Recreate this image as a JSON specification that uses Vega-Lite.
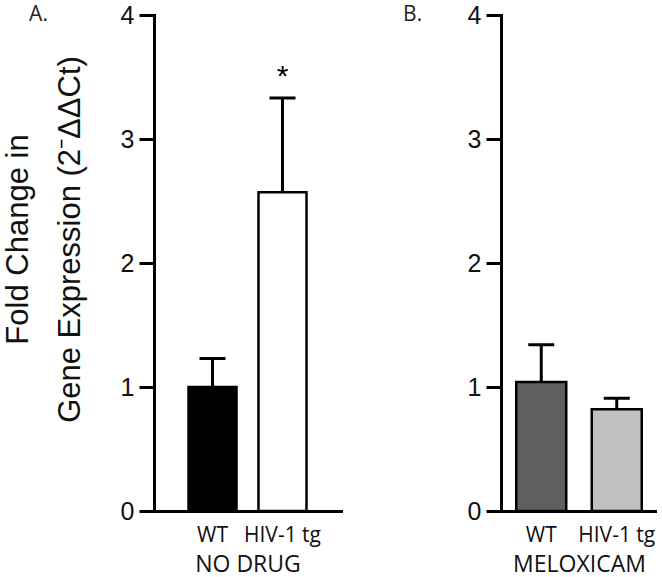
{
  "$schema": "https://vega.github.io/schema/vega-lite/v6.json",
  "padding": {"left": 2, "top": 3, "right": 0, "bottom": 0},
  "background": "white",
  "datasets": {
    "expr": [
      {"panel": "A", "condition": "NO DRUG", "genotype": "WT", "mean": 1.0, "upper": 1.23, "sig": ""},
      {"panel": "A", "condition": "NO DRUG", "genotype": "HIV-1 tg", "mean": 2.57, "upper": 3.33, "sig": "*"},
      {"panel": "B", "condition": "MELOXICAM", "genotype": "WT", "mean": 1.04, "upper": 1.34, "sig": ""},
      {"panel": "B", "condition": "MELOXICAM", "genotype": "HIV-1 tg", "mean": 0.82, "upper": 0.91, "sig": ""}
    ]
  },
  "config": {
    "view": {"stroke": null},
    "axis": {"grid": false, "domainColor": "black", "domainWidth": 3, "domainCap": "square", "tickColor": "black", "tickWidth": 3, "labelColor": "#111", "titleColor": "#111"},
    "axisY": {"tickSize": 15, "labelFont": "Liberation Sans", "labelFontSize": 25, "labelPadding": 5, "format": "d", "titleFont": "Liberation Sans", "titleFontSize": 31, "titleFontWeight": "normal", "titleLineHeight": 52, "titlePadding": 34},
    "axisX": {"ticks": false, "labelAngle": 0, "labelFont": "Open Sans", "labelFontSize": 21, "labelPadding": 13, "titleFont": "Open Sans", "titleFontSize": 23, "titleFontWeight": "normal", "titlePadding": 8},
    "title": {"font": "Open Sans", "fontSize": 21, "fontWeight": "normal", "anchor": "start", "color": "#222", "frame": "bounds"}
  },
  "spacing": 62,
  "resolve": {"scale": {"color": "independent", "x": "independent", "y": "independent"}},
  "hconcat": [
    {
      "title": {"text": "A.", "offset": -22, "dx": 27},
      "width": 187,
      "height": 496,
      "data": {"name": "expr"},
      "transform": [{"filter": "datum.panel === 'A'"}],
      "encoding": {
        "x": {"field": "genotype", "type": "nominal", "sort": ["WT", "HIV-1 tg"], "scale": {"paddingInner": 0.314, "paddingOuter": 0.493}, "title": "NO DRUG"}
      },
      "layer": [
        {
          "mark": {"type": "bar", "stroke": "black", "strokeWidth": 2.5},
          "encoding": {
            "y": {"field": "mean", "type": "quantitative", "scale": {"domain": [0, 4]}, "title": ["Fold Change in", "Gene Expression  (2⁻ΔΔCt)"], "axis": {"values": [0, 1, 2, 3, 4], "titleY": 224}},
            "color": {"field": "genotype", "type": "nominal", "scale": {"domain": ["WT", "HIV-1 tg"], "range": ["#000000", "#ffffff"]}, "legend": null}
          }
        },
        {
          "mark": {"type": "rule", "strokeWidth": 3, "color": "black"},
          "encoding": {
            "y": {"field": "mean", "type": "quantitative", "title": ["Fold Change in", "Gene Expression  (2⁻ΔΔCt)"]},
            "y2": {"field": "upper"}
          }
        },
        {
          "mark": {"type": "tick", "thickness": 3, "size": 26, "color": "black", "opacity": 1},
          "encoding": {
            "y": {"field": "upper", "type": "quantitative", "title": ["Fold Change in", "Gene Expression  (2⁻ΔΔCt)"]}
          }
        },
        {
          "mark": {"type": "text", "fontSize": 30, "dy": -12, "baseline": "alphabetic", "font": "Liberation Sans", "color": "black"},
          "encoding": {
            "y": {"field": "upper", "type": "quantitative", "title": ["Fold Change in", "Gene Expression  (2⁻ΔΔCt)"]},
            "text": {"field": "sig"}
          }
        }
      ]
    },
    {
      "title": {"text": "B.", "offset": -22, "dx": -64},
      "width": 156,
      "height": 496,
      "data": {"name": "expr"},
      "transform": [{"filter": "datum.panel === 'B'"}],
      "encoding": {
        "x": {"field": "genotype", "type": "nominal", "sort": ["WT", "HIV-1 tg"], "scale": {"paddingInner": 0.338, "paddingOuter": 0.202}, "title": "MELOXICAM"}
      },
      "layer": [
        {
          "mark": {"type": "bar", "stroke": "black", "strokeWidth": 2.5},
          "encoding": {
            "y": {"field": "mean", "type": "quantitative", "scale": {"domain": [0, 4]}, "title": null, "axis": {"values": [0, 1, 2, 3, 4]}},
            "color": {"field": "genotype", "type": "nominal", "scale": {"domain": ["WT", "HIV-1 tg"], "range": ["#5f5f5f", "#c0c0c0"]}, "legend": null}
          }
        },
        {
          "mark": {"type": "rule", "strokeWidth": 3, "color": "black"},
          "encoding": {
            "y": {"field": "mean", "type": "quantitative", "title": null},
            "y2": {"field": "upper"}
          }
        },
        {
          "mark": {"type": "tick", "thickness": 3, "size": 26, "color": "black", "opacity": 1},
          "encoding": {
            "y": {"field": "upper", "type": "quantitative", "title": null}
          }
        }
      ]
    }
  ]
}
